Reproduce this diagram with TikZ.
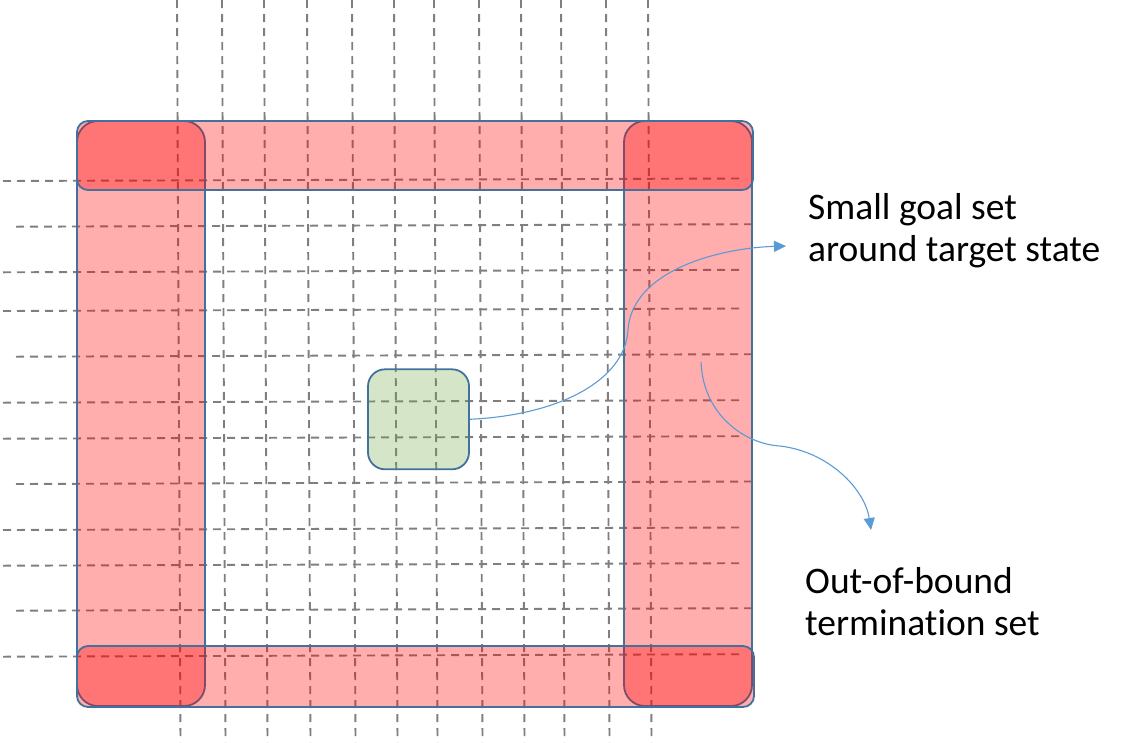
\documentclass[tikz,border=0pt]{standalone}
\usepackage{fontspec}
\setmainfont[Ligatures={NoCommon}]{Carlito}
\usetikzlibrary{arrows.meta}
\definecolor{bandborder}{HTML}{41719C}
\definecolor{gridgray}{HTML}{7F7F7F}
\definecolor{arrowblue}{HTML}{5B9BD5}
\definecolor{goalgreen}{HTML}{70AD47}
\begin{document}
\begin{tikzpicture}[x=1pt,y=-1pt,
  gridline/.style={draw=gridgray, line width=1.9pt, dash pattern=on 8pt off 6pt},
  band/.style={draw=bandborder, line width=1.8pt, fill=red, fill opacity=0.32},
  goalbox/.style={draw=bandborder, line width=1.8pt, fill=goalgreen, fill opacity=0.3,
     minimum width=101pt, minimum height=100pt, rounded corners=17pt, inner sep=0pt},
  pointer/.style={draw=arrowblue, line width=1.1pt, -{Triangle[length=12pt,width=11pt]}},
  lbl/.style={font=\fontsize{37.5}{42}\selectfont, align=left, inner sep=0pt, text=black}]
\useasboundingbox (0,0) rectangle (1126,742);
% vertical dashed grid lines
\foreach \x in {177,222,264,307,352,394,434,479,521,561,606,648}
  \draw[gridline] (\x,0) -- ({\x+3.5},742);
% horizontal dashed grid lines
\foreach \y/\xa/\xb in {181/3/739, 226.7/16/751, 272.3/3/739, 311/3/739,
   356.7/16/751, 402.7/3/739, 438.7/3/739, 484/16/751, 530/3/739,
   565.7/3/739, 610.7/16/751, 656.7/3/739}
  \draw[gridline] (\xa,\y) -- (\xb,{\y-2.5});
% termination bands
\draw[band, rounded corners=21pt] (77,121) rectangle (205,706);
\draw[band, rounded corners=21pt] (624,121) rectangle (752,706);
\draw[band, rounded corners=11pt] (77,121) rectangle (753,190);
\draw[band, rounded corners=11pt] (77,646) rectangle (754,707);
% goal set
\node[goalbox] (goal) at (418.5,419.3) {};
% labels (base anchor = baseline of the last line)
\node[lbl, anchor=base west] (goaltxt) at (808,261) {Small goal set\\around target state};
\node[lbl, anchor=base west] (oobtxt) at (805,635) {Out-of-bound\\termination set};
% pointers
\coordinate (goaltip) at (786,246);
\coordinate (oobstart) at (701,362);
\coordinate (oobtip) at (871,530);
\coordinate (goalmid) at (628,330);
\coordinate (oobmid) at (780,446);
\draw[pointer] (goal.east) .. controls (560,415) and (625,380) .. (goalmid)
   .. controls (632,270) and (720,248) .. (goaltip);
\draw[pointer] (oobstart) .. controls (703,415) and (745,444) .. (oobmid)
   .. controls (830,452) and (865,490) .. (oobtip);
\end{tikzpicture}
\end{document}
